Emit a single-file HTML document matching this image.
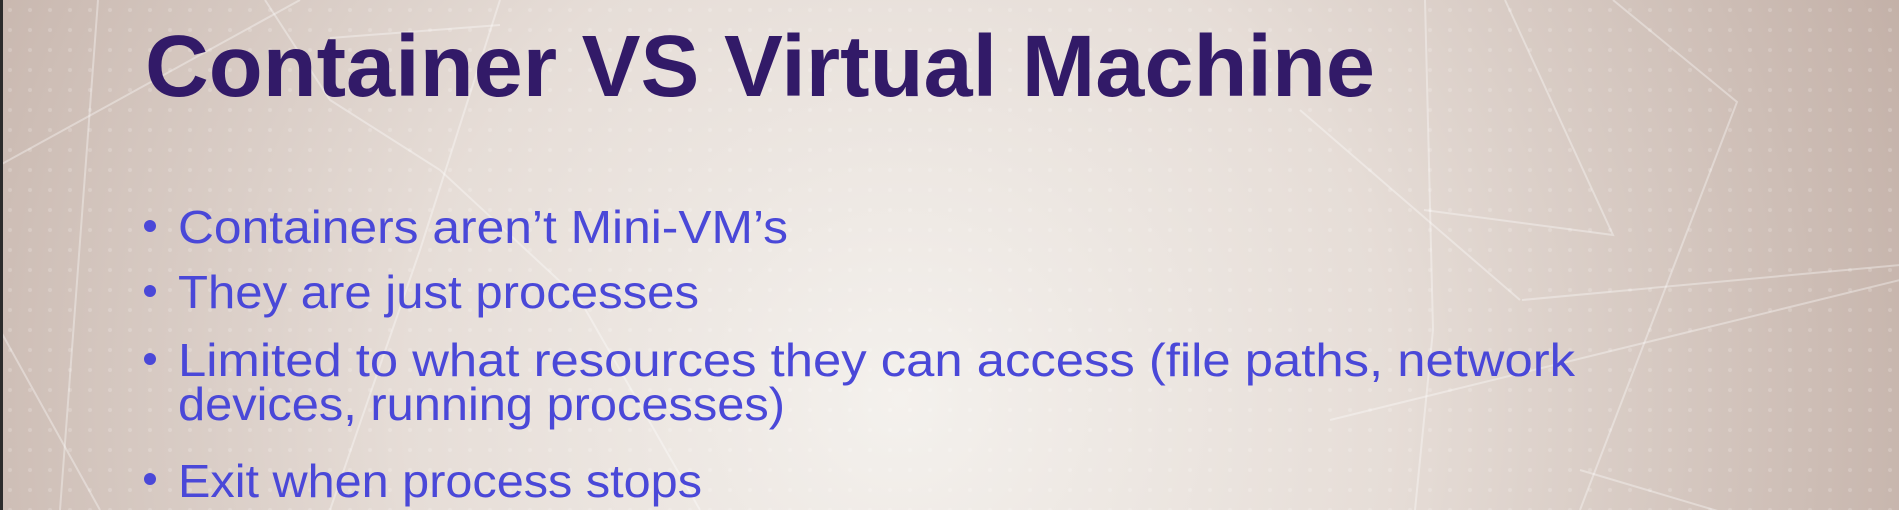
<!DOCTYPE html>
<html><head><meta charset="utf-8"><style>
html,body{margin:0;padding:0;width:1899px;height:510px;overflow:hidden}
svg{display:block}
</style></head><body>
<svg width="1899" height="510" viewBox="0 0 1899 510" xmlns="http://www.w3.org/2000/svg">
<defs>
<radialGradient id="bg" cx="900" cy="400" r="1100" gradientUnits="userSpaceOnUse">
<stop offset="0" stop-color="#f4f1ed"/>
<stop offset="0.45" stop-color="#e6ddd7"/>
<stop offset="1" stop-color="#c2afa6"/>
</radialGradient>
<pattern id="dots" width="20" height="20" patternUnits="userSpaceOnUse">
<circle cx="10" cy="10" r="2" fill="#ffffff" opacity="0.18"/>
</pattern>
</defs>
<rect width="1899" height="510" fill="url(#bg)"/>
<rect width="1899" height="510" fill="url(#dots)"/>
<g stroke="#ffffff" stroke-opacity="0.35" stroke-width="2" fill="none">
<polyline points="0,165 300,0"/>
<polyline points="98,0 60,510"/>
<polyline points="265,0 330,100 440,170 580,300 700,510"/>
<polyline points="330,38 500,25"/>
<polyline points="500,0 420,250 330,510"/>
<polyline points="1425,0 1433,330 1415,510"/>
<polyline points="1505,0 1613,235 1424,210"/>
<polyline points="1613,0 1737,102 1580,510"/>
<polyline points="1522,300 1900,265"/>
<polyline points="1330,420 1900,280"/>
<polyline points="1580,470 1805,537"/>
<polyline points="1300,110 1520,300"/>
<polyline points="0,330 100,510"/>
</g>
<rect x="0" y="0" width="3" height="510" fill="#2b2b2b"/>
<text x="145" y="96" font-family="Liberation Sans, sans-serif" font-weight="bold" font-size="87" fill="#321a68" textLength="1230" lengthAdjust="spacingAndGlyphs">Container VS Virtual Machine</text>
<g fill="#4a48d8" font-family="Liberation Sans, DejaVu Sans, sans-serif" font-size="46">
<circle cx="150" cy="226" r="6"/>
<circle cx="150" cy="291" r="6"/>
<circle cx="150" cy="359" r="6"/>
<circle cx="150" cy="479" r="6"/>
<text x="178" y="243" textLength="610" lengthAdjust="spacingAndGlyphs">Containers aren’t Mini-VM’s</text>
<text x="178" y="308" textLength="521" lengthAdjust="spacingAndGlyphs">They are just processes</text>
<text x="178" y="376" textLength="1397" lengthAdjust="spacingAndGlyphs">Limited to what resources they can access (file paths, network</text>
<text x="178" y="420" textLength="607" lengthAdjust="spacingAndGlyphs">devices, running processes)</text>
<text x="178" y="497" textLength="524" lengthAdjust="spacingAndGlyphs">Exit when process stops</text>
</g>
</svg>
</body></html>
